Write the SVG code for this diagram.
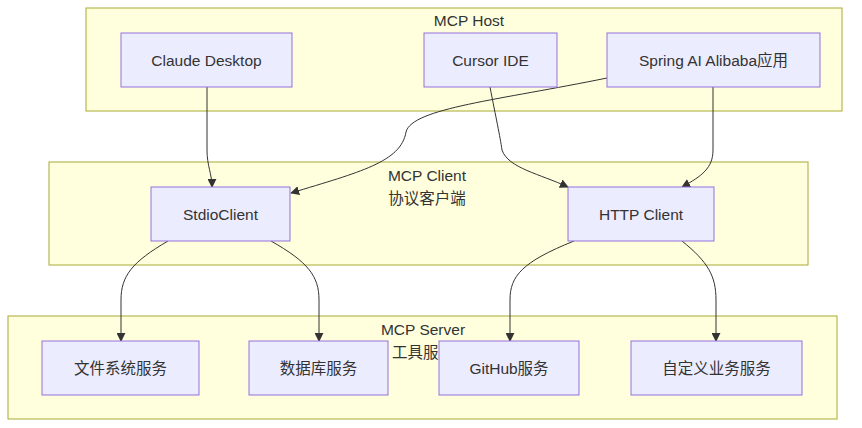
<svg xmlns="http://www.w3.org/2000/svg" width="862" height="428" viewBox="0 0 862 428">
<style>
.cl{fill:#ffffde;stroke:#aaaa33;stroke-width:1}
.nd{fill:#ececff;stroke:#9370db;stroke-width:1}
text{font-family:"Liberation Sans","Noto Sans CJK SC",sans-serif;font-size:15.5px;fill:#333;text-anchor:middle;dominant-baseline:central}
.e{fill:none;stroke:#333;stroke-width:1}
</style>
<defs>
<marker id="ah" viewBox="0 0 10 10" refX="9" refY="5" markerWidth="9" markerHeight="9" markerUnits="userSpaceOnUse" orient="auto">
<path d="M0,0 L10,5 L0,10 z" fill="#333"/>
</marker>
</defs>
<g id="host"><rect class="cl" x="86" y="8" width="756" height="103"/><text x="469" y="20">MCP Host</text></g>
<g id="client"><rect class="cl" x="49" y="162" width="759" height="103"/><text x="427" y="175">MCP Client</text><text x="427" y="198">协议客户端</text></g>
<g id="server"><rect class="cl" x="8" y="316" width="829" height="103"/><text x="423" y="329">MCP Server</text><text x="423" y="352">工具服务</text></g>
<g id="edges">
<path class="e" marker-end="url(#ah)" d="M207,87 L207,150 C207,166 212,174 212,187"/>
<path class="e" marker-end="url(#ah)" d="M607,78 C500,100 412,108 406,132 C401,162 360,172 291,193"/>
<path class="e" marker-end="url(#ah)" d="M490,87 C496,118 500,136 502,150 C508,168 540,174 568,187"/>
<path class="e" marker-end="url(#ah)" d="M713,87 L713,150 C713,168 702,176 682,187"/>
<path class="e" marker-end="url(#ah)" d="M168,241 C132,262 121,276 121,300 L121,341"/>
<path class="e" marker-end="url(#ah)" d="M271,241 C308,262 319,276 319,300 L319,341"/>
<path class="e" marker-end="url(#ah)" d="M574,241 C522,262 510,276 510,300 L510,341"/>
<path class="e" marker-end="url(#ah)" d="M682,241 C708,262 716,276 716,300 L716,341"/>
</g>
<g id="claude"><rect class="nd" x="121" y="33" width="171" height="54"/><text x="206.5" y="60">Claude Desktop</text></g>
<g id="cursor"><rect class="nd" x="424" y="33" width="133" height="54"/><text x="490.5" y="60">Cursor IDE</text></g>
<g id="spring"><rect class="nd" x="607" y="33" width="213" height="54"/><text x="713.5" y="60">Spring AI Alibaba应用</text></g>
<g id="stdio"><rect class="nd" x="151" y="187" width="139" height="54"/><text x="220.5" y="214">StdioClient</text></g>
<g id="http"><rect class="nd" x="568" y="187" width="146" height="54"/><text x="641" y="214">HTTP Client</text></g>
<g id="fs"><rect class="nd" x="42" y="341" width="157" height="54"/><text x="120.5" y="368">文件系统服务</text></g>
<g id="db"><rect class="nd" x="249" y="341" width="139" height="54"/><text x="318.5" y="368">数据库服务</text></g>
<g id="gh"><rect class="nd" x="439" y="341" width="140" height="54"/><text x="509" y="368">GitHub服务</text></g>
<g id="biz"><rect class="nd" x="631" y="341" width="171" height="54"/><text x="716.5" y="368">自定义业务服务</text></g>
</svg>
